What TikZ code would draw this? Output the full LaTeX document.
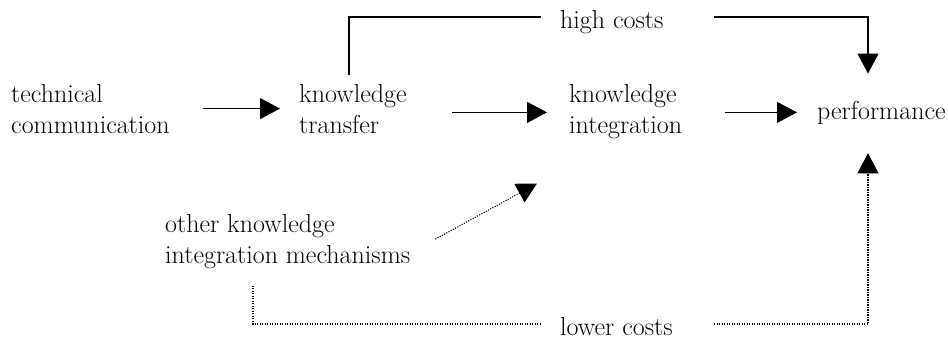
\documentclass[tikz,border=0pt]{standalone}
\usetikzlibrary{arrows.meta}

\tikzset{
  lbl/.style={inner sep=0pt, align=left, anchor=base west, font=\fontsize{26}{31}\selectfont},
  cost/.style={lbl, text height=22pt, text depth=0pt},
  link/.style={line width=1.2pt},
  conn/.style={link, -{Triangle[length=20pt,width=21pt]}},
  dotlink/.style={line width=1.1pt, dash pattern=on 1.1pt off 1.4pt},
  dotconn/.style={dotlink, -{Triangle[length=20pt,width=21pt]}}
}

\begin{document}
\begin{tikzpicture}[x=1pt, y=-1pt]
  \useasboundingbox (0,0) rectangle (948,341);
  % texts (base = last line)
  \node[lbl] (tc) at (11,133) {technical\\communication};
  \node[lbl] (kt) at (299,133) {knowledge\\transfer};
  \node[lbl] (ki) at (569,133) {knowledge\\integration};
  \node[lbl] (perf) at (817,119) {performance};
  \node[lbl] (other) at (165,263) {other knowledge\\integration mechanisms};
  \node[cost] (hc) at (560,28) {high costs};
  \node[cost] (lc) at (560,335) {lower costs};
  % free ends
  \coordinate (kttop) at ([xshift=50pt,yshift=9pt]kt.north west);
  \coordinate (perftop) at ([xshift=51pt,yshift=27pt]perf.north west);
  \coordinate (perfbot) at ([xshift=51pt,yshift=-29pt]perf.south west);
  \coordinate (otherbot) at ([xshift=88pt,yshift=-17pt]other.south west);
  % main chain
  \draw[conn] ([xshift=33pt]tc.east) -- ([xshift=-19pt]kt.west |- tc.east);
  \draw[conn] ([xshift=45pt]kt.east |- perf.west) -- ([xshift=-22pt]ki.west |- perf.west);
  \draw[conn] ([xshift=43pt]ki.east |- perf.west) -- ([xshift=-20pt]perf.west);
  % costs
  \draw[link] (kttop) |- ([xshift=-19pt]hc.west);
  \draw[conn] ([xshift=154pt]hc.west) -| (perftop);
  \draw[dotlink] (otherbot) |- ([xshift=-19pt]lc.west);
  \draw[dotconn] ([xshift=154pt]lc.west) -| (perfbot);
  \draw[dotconn] ([xshift=25pt,yshift=2pt]other.east) -- ([xshift=-32pt,yshift=-45pt]ki.south west);
\end{tikzpicture}
\end{document}
